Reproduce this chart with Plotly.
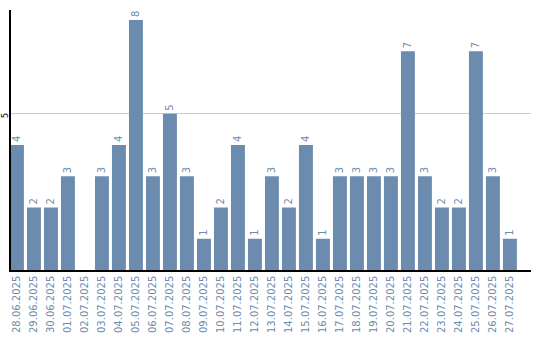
import plotly.graph_objects as go

dates = ["28.06.2025","29.06.2025","30.06.2025","01.07.2025","02.07.2025","03.07.2025",
         "04.07.2025","05.07.2025","06.07.2025","07.07.2025","08.07.2025","09.07.2025",
         "10.07.2025","11.07.2025","12.07.2025","13.07.2025","14.07.2025","15.07.2025",
         "16.07.2025","17.07.2025","18.07.2025","19.07.2025","20.07.2025","21.07.2025",
         "22.07.2025","23.07.2025","24.07.2025","25.07.2025","26.07.2025","27.07.2025"]
values = [4,2,2,3,0,3,4,8,3,5,3,1,2,4,1,3,2,4,1,3,3,3,3,7,3,2,2,7,3,1]
labels = [str(v) if v else "" for v in values]
ytick_vals = [5]

color = "#6b8cae"
fig = go.Figure(go.Bar(
    x=dates, y=values, text=labels, textposition="outside", textangle=-90,
    textfont=dict(color=color, size=10, family="DejaVu Sans"),
    marker=dict(color=color, line=dict(width=0)), cliponaxis=False,
))
fig.update_layout(
    width=540, height=340, margin=dict(l=11, r=9, t=10, b=70, autoexpand=False),
    paper_bgcolor="white", plot_bgcolor="white", bargap=0.18, showlegend=False,
    xaxis=dict(type="category", range=[-0.35, 30.24], showline=True, linecolor="black",
               linewidth=1.5, tickangle=-90, tickfont=dict(color=color, size=10, family="DejaVu Sans"),
               ticks="", showgrid=False, automargin=False),
    yaxis=dict(range=[0, 8.32], tickvals=ytick_vals, showline=True, linecolor="black", linewidth=1.5,
               gridcolor="#cccccc", gridwidth=1, tickangle=-90, zeroline=False,
               tickfont=dict(color="black", size=8, family="DejaVu Sans"), ticks="",
               automargin=False, ticklabelstandoff=-2, ticklabelshift=3),
)
fig.write_html("out.html")
